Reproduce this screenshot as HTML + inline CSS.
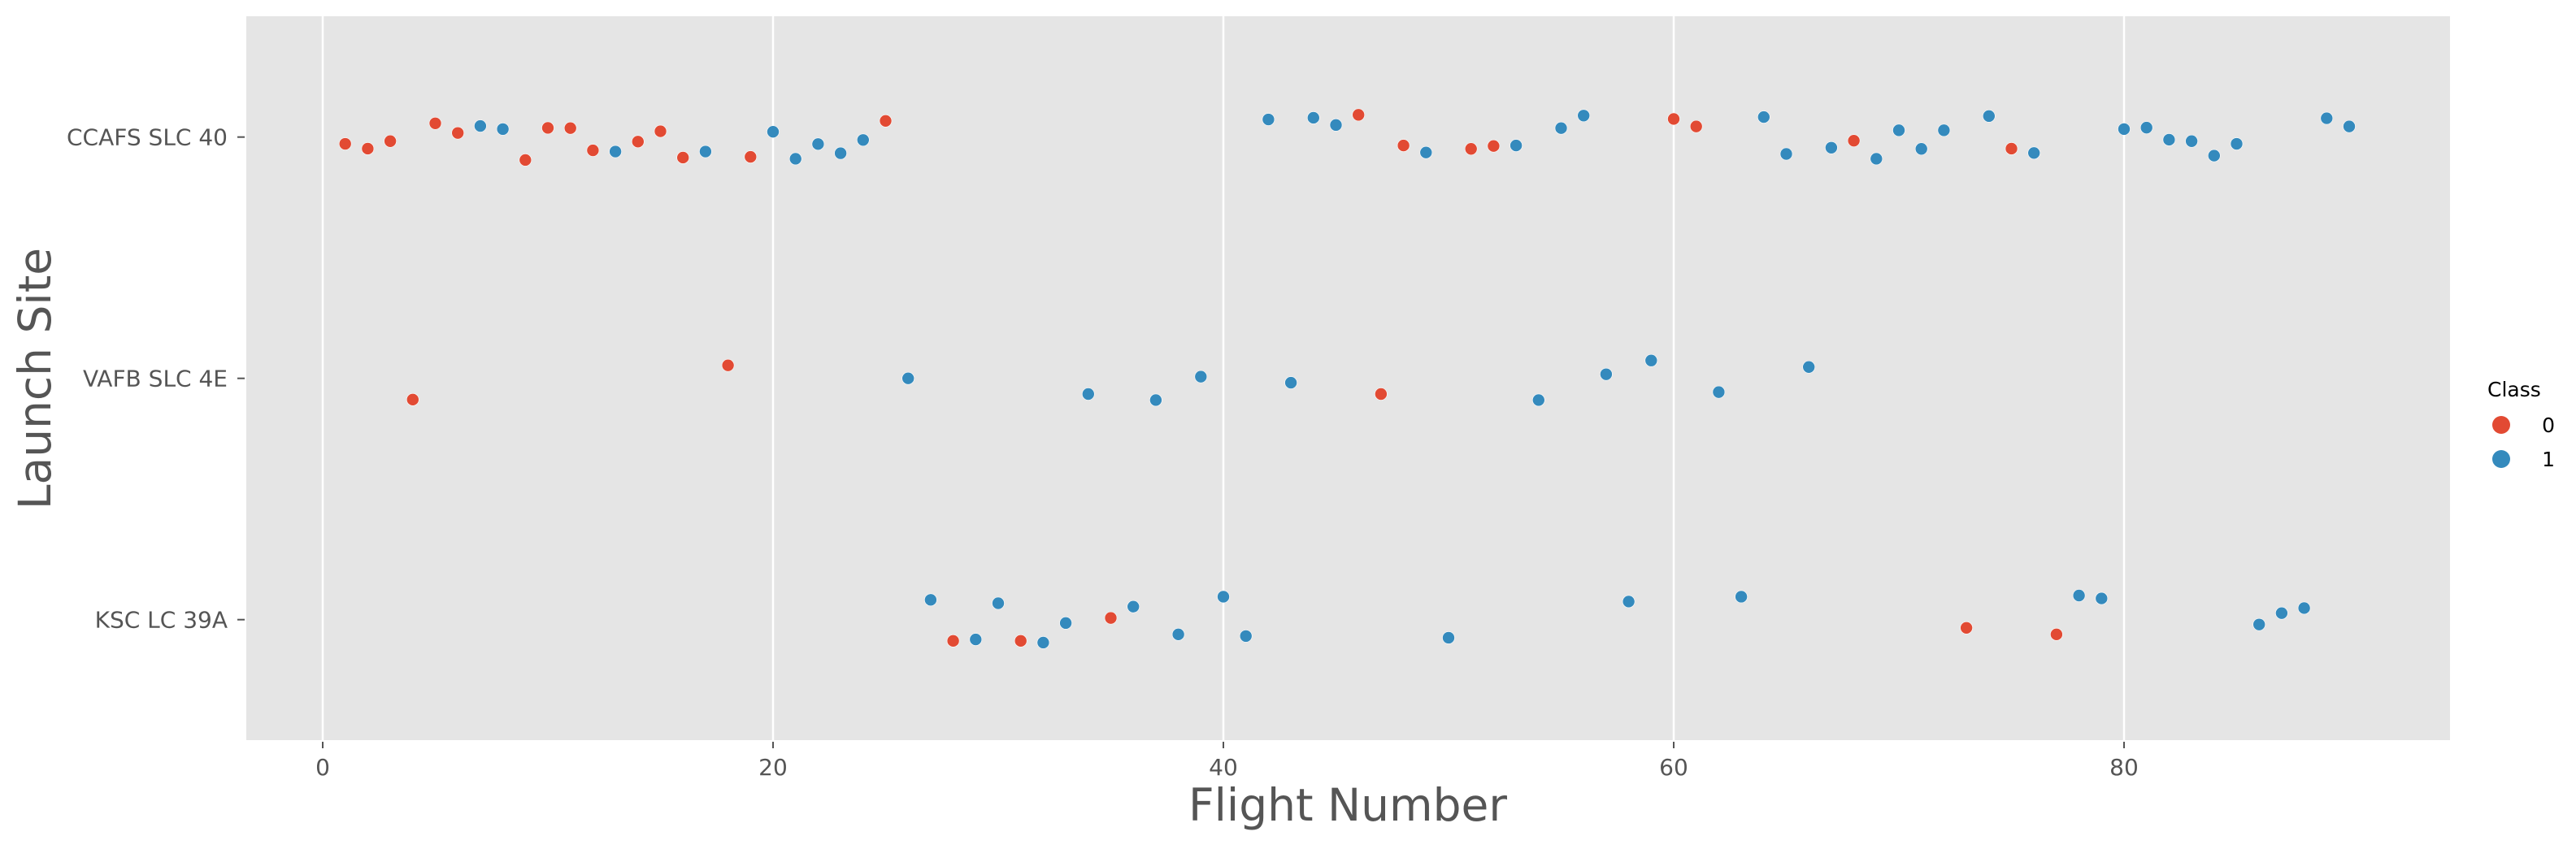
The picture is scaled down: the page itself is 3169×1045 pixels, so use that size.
<!DOCTYPE html>
<html><head><meta charset="utf-8"><style>
html,body{margin:0;padding:0;background:#fff;}
svg{display:block;font-family:"DejaVu Sans","Liberation Sans",sans-serif;}
</style></head><body>
<svg id="chart" width="3169" height="1045" viewBox="0 0 3169 1045" xmlns="http://www.w3.org/2000/svg">
<rect x="303" y="20" width="2711" height="891" fill="#e5e5e5"/>
<g id="grid"></g><g id="ticks"></g><g id="points"></g>
<text x="1658" y="1010" font-size="55" fill="#555" text-anchor="middle">Flight Number</text>
<text x="0" y="0" font-size="55" fill="#555" text-anchor="middle" transform="translate(62,466) rotate(-90)">Launch Site</text>
<g>
<text x="3060" y="488" font-size="25" fill="#000">Class</text>
<circle cx="3077" cy="523" r="11" fill="#E24A33"/>
<text x="3143" y="532" font-size="25" fill="#000" text-anchor="end">0</text>
<circle cx="3077" cy="565" r="11" fill="#348ABD"/>
<text x="3143" y="574" font-size="25" fill="#000" text-anchor="end">1</text>
</g>
</svg>
<script>
const categories = ["CCAFS SLC 40","VAFB SLC 4E","KSC LC 39A"];
const xTicks = [0,20,40,60,80];
const flights = [1,2,3,5,6,7,8,9,10,11,12,13,14,15,16,17,19,20,21,22,23,24,25,42,44,45,46,48,49,51,52,53,55,56,60,61,64,65,67,68,69,70,71,72,74,75,76,80,81,82,83,84,85,89,90,
 4,18,26,34,37,39,43,47,54,57,59,62,66,
 27,28,29,30,31,32,33,35,36,38,40,41,50,58,63,73,77,78,79,86,87,88];
const sites = [0,0,0,0,0,0,0,0,0,0,0,0,0,0,0,0,0,0,0,0,0,0,0,0,0,0,0,0,0,0,0,0,0,0,0,0,0,0,0,0,0,0,0,0,0,0,0,0,0,0,0,0,0,0,0,
 1,1,1,1,1,1,1,1,1,1,1,1,1,
 2,2,2,2,2,2,2,2,2,2,2,2,2,2,2,2,2,2,2,2,2,2];
const classes = [0,0,0,0,0,1,1,0,0,0,0,1,0,0,0,1,0,1,1,1,1,1,0,1,1,1,0,0,1,0,0,1,1,1,0,0,1,1,1,0,1,1,1,1,1,0,1,1,1,1,1,1,1,1,1,
 0,0,1,1,1,1,1,0,1,1,1,1,1,
 1,0,1,1,0,1,1,0,1,1,1,1,1,1,1,0,0,1,1,1,1,1];
const jitter = [0.028,0.048,0.017,-0.057,-0.017,-0.046,-0.033,0.095,-0.038,-0.037,0.055,0.06,0.019,-0.024,0.085,0.06,0.082,-0.022,0.09,0.029,0.067,0.012,-0.067,-0.073,-0.08,-0.05,-0.092,0.035,0.064,0.049,0.037,0.035,-0.037,-0.089,-0.075,-0.044,-0.083,0.07,0.044,0.015,0.09,-0.028,0.049,-0.028,-0.087,0.048,0.066,-0.033,-0.039,0.011,0.017,0.077,0.028,-0.078,-0.044,
 0.088,-0.054,0.0,0.065,0.09,-0.007,0.018,0.065,0.09,-0.017,-0.074,0.057,-0.047,
 -0.082,0.088,0.082,-0.068,0.088,0.095,0.014,-0.007,-0.054,0.061,-0.095,0.068,0.075,-0.075,-0.095,0.034,0.061,-0.1,-0.088,0.02,-0.027,-0.048];
const colors = ["#E24A33","#348ABD"];
const NS="http://www.w3.org/2000/svg";
const xs = v => 397 + v*27.7;
const ys = v => 168.7 + v*297;
const grid=document.getElementById('grid'), ticks=document.getElementById('ticks'), pts=document.getElementById('points');
function mk(tag, attrs, parent){const e=document.createElementNS(NS,tag);for(const k in attrs)e.setAttribute(k,attrs[k]);parent.appendChild(e);return e;}
xTicks.forEach(t=>{
  const g=mk('line',{x1:xs(t),x2:xs(t),y1:20,y2:911,stroke:'#fff','stroke-width':2.5},grid);
  
  
  const tk=mk('line',{x1:xs(t),x2:xs(t),y1:913,y2:921,stroke:'#555','stroke-width':2},ticks);
  
  
  const tl=mk('text',{x:xs(t),y:954,'font-size':28,fill:'#555','text-anchor':'middle'},ticks);
  tl.textContent=t;
  
  
});
categories.forEach((c,i)=>{
  const tk=mk('line',{x1:292,x2:301,y1:ys(i),y2:ys(i),stroke:'#555','stroke-width':2},ticks);
  
  
  const tl=mk('text',{x:280,y:ys(i)+10,'font-size':28,fill:'#555','text-anchor':'end'},ticks);
  tl.textContent=c;
  
  
});
flights.forEach((f,i)=>{
  const p=mk('circle',{cx:xs(f),cy:ys(sites[i]+jitter[i]),r:7.5,fill:colors[classes[i]],stroke:'#fff','stroke-width':0.6},pts);
  
  
});
</script>
</body></html>
